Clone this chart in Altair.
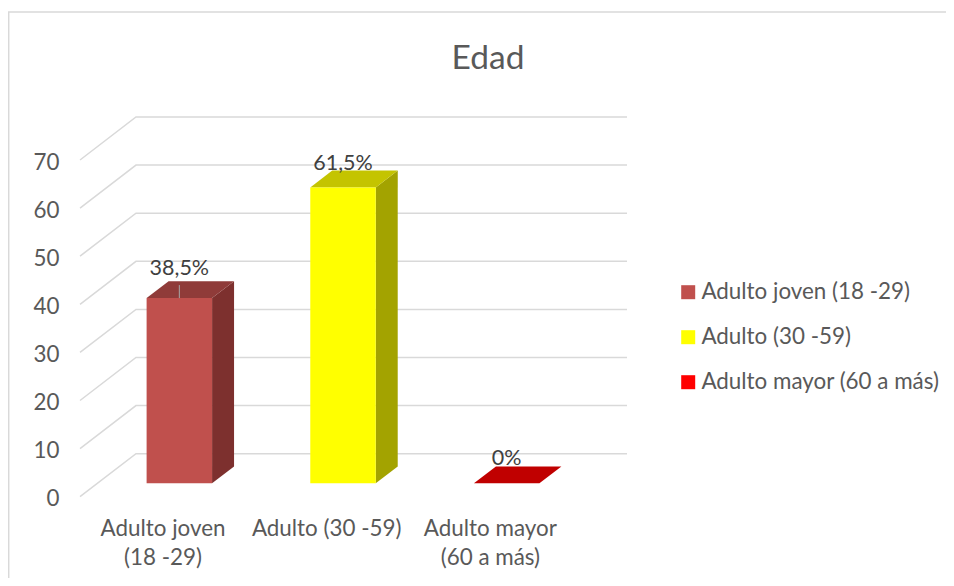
import altair as alt
import pandas as pd

categories = ["Adulto joven (18 -29)", "Adulto (30 -59)", "Adulto mayor (60 a más)"]
axis_labels = ["Adulto joven\n(18 -29)", "Adulto (30 -59)", "Adulto mayor\n(60 a más)"]
values = [38.5, 61.5, 0]
value_labels = ["38,5%", "61,5%", "0%"]
label_lift = [6.0, 4.9, 5.0]
front_colors = ["#C0504D", "#FFFF00", "#FF0000"]
top_colors = ["#8F3B39", "#C4C400", "#C00000"]
side_colors = ["#7D302E", "#A3A300", "#A00000"]
grid_values = [0, 10, 20, 30, 40, 50, 60, 70]
n_cat = 3

# projection of the 3-D box: depth 0 = front of floor, depth 1 = back wall
DEPTH_X = 0.342   # in category units
DEPTH_Y = 8.94    # in value units
BAR_FRONT = 0.3125
BAR_BACK = 0.705
BAR_W = 0.4
FONT = "Lato"
TXT = "#595959"


def px(c, d):
    return c + d * DEPTH_X


def py(v, d):
    return v + d * DEPTH_Y


x_scale = alt.Scale(domain=[-0.44, 5.291], nice=False, zero=False)
y_scale = alt.Scale(domain=[-16.9, 101.6], nice=False, zero=False)
y_axis = alt.Axis(values=grid_values, domain=False, ticks=False, grid=False,
                  labelFont=FONT, labelFontSize=22.4, labelColor=TXT,
                  labelPadding=0, offset=-51, labelOffset=2)
X = lambda f: alt.X(f, type="quantitative", scale=x_scale, axis=None)
Y = lambda f: alt.Y(f, type="quantitative", scale=y_scale, title=None, axis=y_axis)

# grid
grid_rows = []
for v in grid_values:
    for k, (c, d) in enumerate([(0, 0), (0, 1), (n_cat, 1)]):
        grid_rows.append({"g": v, "k": k, "x": px(c, d), "y": py(v, d)})
grid = alt.Chart(pd.DataFrame(grid_rows)).mark_line(
    color="#D9D9D9", strokeWidth=1.5
).encode(x=X("x"), y=Y("y"), detail="g:N", order="k:Q")

# bar faces
front_rows, side_rows, top_rows = [], [], []
for i, (cat, v) in enumerate(zip(categories, values)):
    left = i + 0.5 - BAR_W / 2
    right = i + 0.5 + BAR_W / 2
    front_rows.append({"cat": cat, "x": px(left, BAR_FRONT), "x2": px(right, BAR_FRONT),
                       "y": py(0, BAR_FRONT), "y2": py(v, BAR_FRONT)})
    for d in (BAR_FRONT, BAR_BACK):
        side_rows.append({"cat": cat, "color": side_colors[i], "x": px(right, d),
                          "y": py(0, d), "y2": py(v, d)})
        top_rows.append({"cat": cat, "color": top_colors[i], "x": px(left, d),
                         "x2": px(right, d), "y": py(v, d)})

side = alt.Chart(pd.DataFrame(side_rows)).mark_area().encode(
    x=X("x"), y=Y("y"), y2="y2", detail="cat:N",
    color=alt.Color("color:N", scale=None, legend=None))
top = alt.Chart(pd.DataFrame(top_rows)).mark_area(orient="horizontal").encode(
    y=Y("y"), x=X("x"), x2="x2", detail="cat:N",
    color=alt.Color("color:N", scale=None, legend=None))
front = alt.Chart(pd.DataFrame(front_rows)).mark_rect().encode(
    x=X("x"), x2="x2", y=Y("y"), y2="y2",
    color=alt.Color("cat:N", scale=alt.Scale(domain=categories, range=front_colors),
                    legend=alt.Legend(
                        title=None, orient="none", legendX=669, legendY=273,
                        symbolType="square", symbolSize=196, symbolStrokeWidth=0,
                        labelFont=FONT, labelFontSize=22.4, labelColor=TXT,
                        labelOffset=2, rowPadding=22, labelLimit=300)))

# data labels + leader line
lab_df = pd.DataFrame({
    "t": value_labels,
    "x": [px(i + 0.5, BAR_FRONT) for i in range(n_cat)],
    "y": [py(v + l, BAR_FRONT) for v, l in zip(values, label_lift)],
})
labels = alt.Chart(lab_df).mark_text(
    font=FONT, fontSize=21.5, color="#404040", baseline="middle", align="center"
).encode(x=X("x"), y=Y("y"), text="t:N")

leader_df = pd.DataFrame({"x": [px(0.5, BAR_FRONT)],
                          "y": [py(values[0], BAR_FRONT)],
                          "y2": [py(values[0] + 2.7, BAR_FRONT)]})
leader = alt.Chart(leader_df).mark_rule(color="#A6A6A6", strokeWidth=1).encode(
    x=X("x"), y=Y("y"), y2="y2")

# category labels
cat_df = pd.DataFrame({
    "t": axis_labels,
    "x": [i + 0.5 + 0.007 for i in range(n_cat)],
    "y": [-6.8] * n_cat,
})
cat_text = alt.Chart(cat_df).mark_text(
    font=FONT, fontSize=22.4, color=TXT, baseline="middle", align="center",
    lineBreak="\n", lineHeight=29
).encode(x=X("x"), y=Y("y"), text="t:N")

# outer frame of the chart
frame_top = alt.Chart(pd.DataFrame({"a": [0]})).mark_rule(
    color="#D9D9D9", strokeWidth=1.5
).encode(x=alt.value(0), x2=alt.value(938), y=alt.value(4))
frame_left = alt.Chart(pd.DataFrame({"a": [0]})).mark_rule(
    color="#D9D9D9", strokeWidth=1.5
).encode(x=alt.value(0.7), y=alt.value(4), y2=alt.value(570))

chart = alt.layer(
    frame_top, frame_left, grid, side, top, front, leader, labels, cat_text
).properties(
    width=938, height=570, padding=0,
    autosize=alt.AutoSizeParams(type="none"),
    background="white",
    title=alt.TitleParams("Edad", font=FONT, fontSize=33.5, fontWeight="normal",
                          color=TXT, anchor="middle", dx=11, dy=72),
).resolve_scale(color="independent").configure_view(stroke=None)

chart.save("out.html", embed_options={"renderer": "svg", "actions": False})
